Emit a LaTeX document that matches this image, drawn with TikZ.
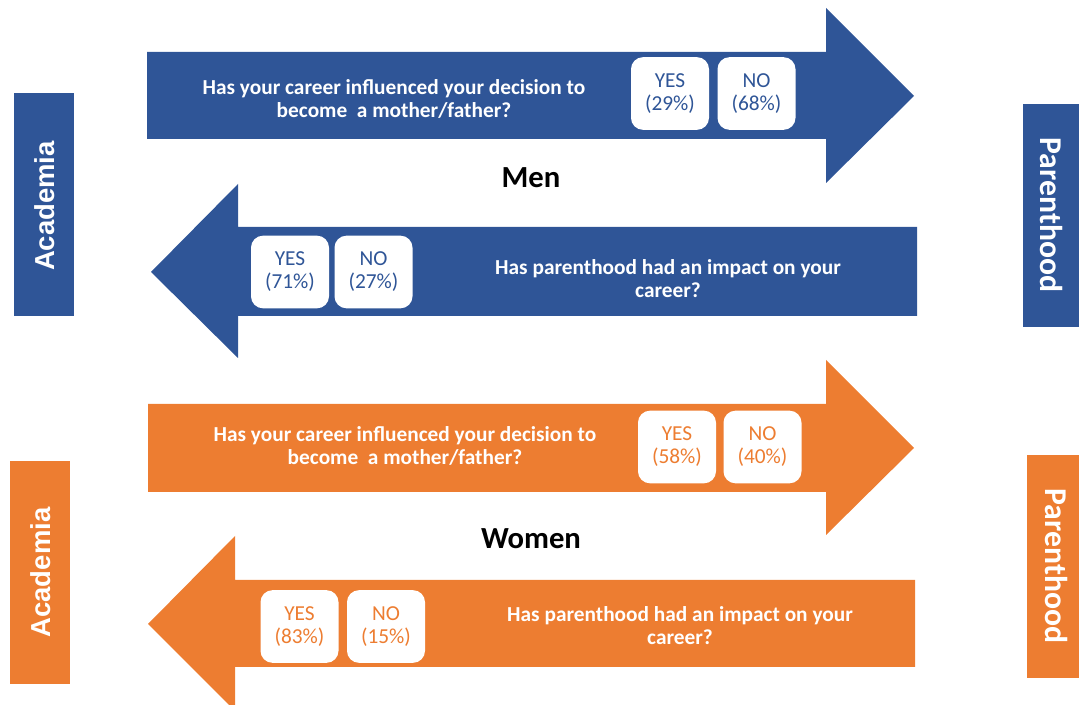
\documentclass[tikz,border=0pt]{standalone}
\usepackage{fontspec}
\setmainfont{Carlito}
\newfontfamily\armfont{Liberation Sans}
\definecolor{mblue}{HTML}{2F5597}
\definecolor{forange}{HTML}{ED7D31}
\begin{document}
\begin{tikzpicture}[x=0.75pt,y=-0.75pt,
  question/.style={text=white,font=\fontsize{16}{17.25}\selectfont\bfseries,align=center,inner sep=0pt},
  answer/.style={fill=white,rounded corners=9pt,minimum width=58.5pt,minimum height=54.5pt,
    inner sep=0pt,align=center,font=\fontsize{16}{17.25}\selectfont},
  sidebox/.style={inner sep=0pt},
  sidelabel/.style={text=white,inner sep=0pt},
  group/.style={font=\fontsize{23}{26}\selectfont\bfseries,inner sep=0pt}]
\useasboundingbox (0,0) rectangle (1079,705);

% ---- Men: career -> parenthood (right-pointing arrow)
\fill[mblue] (147,52) -- (826,52) -- (826,8) -- (914,96) -- (826,183) -- (826,139) -- (147,139) -- cycle;
\node[question] (mq1) at (394,99) {Has your career influenced your decision to\\become~ a mother/father?};
\node[answer,text=mblue] (my1) at (670,93.5) {YES\\(29\%)};
\node[answer,text=mblue] (mn1) at (756.5,93.5) {NO\\(68\%)};

\node[group] (men) at (531,178) {Men};

% ---- Men: parenthood -> career (left-pointing arrow)
\fill[mblue] (917,227) -- (238,227) -- (238,184) -- (151,272) -- (238,358) -- (238,316) -- (917,316) -- cycle;
\node[answer,text=mblue] (my2) at (290,272) {YES\\(71\%)};
\node[answer,text=mblue] (mn2) at (373.5,272) {NO\\(27\%)};
\node[question] (mq2) at (668,279) {Has parenthood had an impact on your\\career?};

% ---- Women: career -> parenthood
\fill[forange] (148,404) -- (826,404) -- (826,360) -- (914,448) -- (826,535) -- (826,492) -- (148,492) -- cycle;
\node[question] (wq1) at (405,446) {Has your career influenced your decision to\\become~ a mother/father?};
\node[answer,text=forange] (wy1) at (677,447) {YES\\(58\%)};
\node[answer,text=forange] (wn1) at (762.5,447) {NO\\(40\%)};

\node[group] (women) at (531,539) {Women};

% ---- Women: parenthood -> career
\fill[forange] (915,580) -- (235,580) -- (235,536) -- (148,624) -- (235,711) -- (235,667) -- (915,667) -- cycle;
\node[answer,text=forange] (wy2) at (299.5,626.5) {YES\\(83\%)};
\node[answer,text=forange] (wn2) at (386,626.5) {NO\\(15\%)};
\node[question] (wq2) at (680,626) {Has parenthood had an impact on your\\career?};

% ---- side labels
\fill[mblue] (14,93) rectangle (74,316);
\node[sidelabel,rotate=90,font=\armfont\fontsize{20.6}{22}\selectfont\bfseries] (ma) at (45,206) {Academia};
\fill[mblue] (1023,104) rectangle (1082,327);
\node[sidelabel,rotate=-90,font=\fontsize{23.8}{26}\selectfont\bfseries] (mp) at (1052,215) {Parenthood};

\fill[forange] (10,461) rectangle (70,684);
\node[sidelabel,rotate=90,font=\armfont\fontsize{20.6}{22}\selectfont\bfseries] (wa) at (41,572.5) {Academia};
\fill[forange] (1027,455) rectangle (1082,678);
\node[sidelabel,rotate=-90,font=\fontsize{23.8}{26}\selectfont\bfseries] (wp) at (1057,566) {Parenthood};
\end{tikzpicture}
\end{document}
